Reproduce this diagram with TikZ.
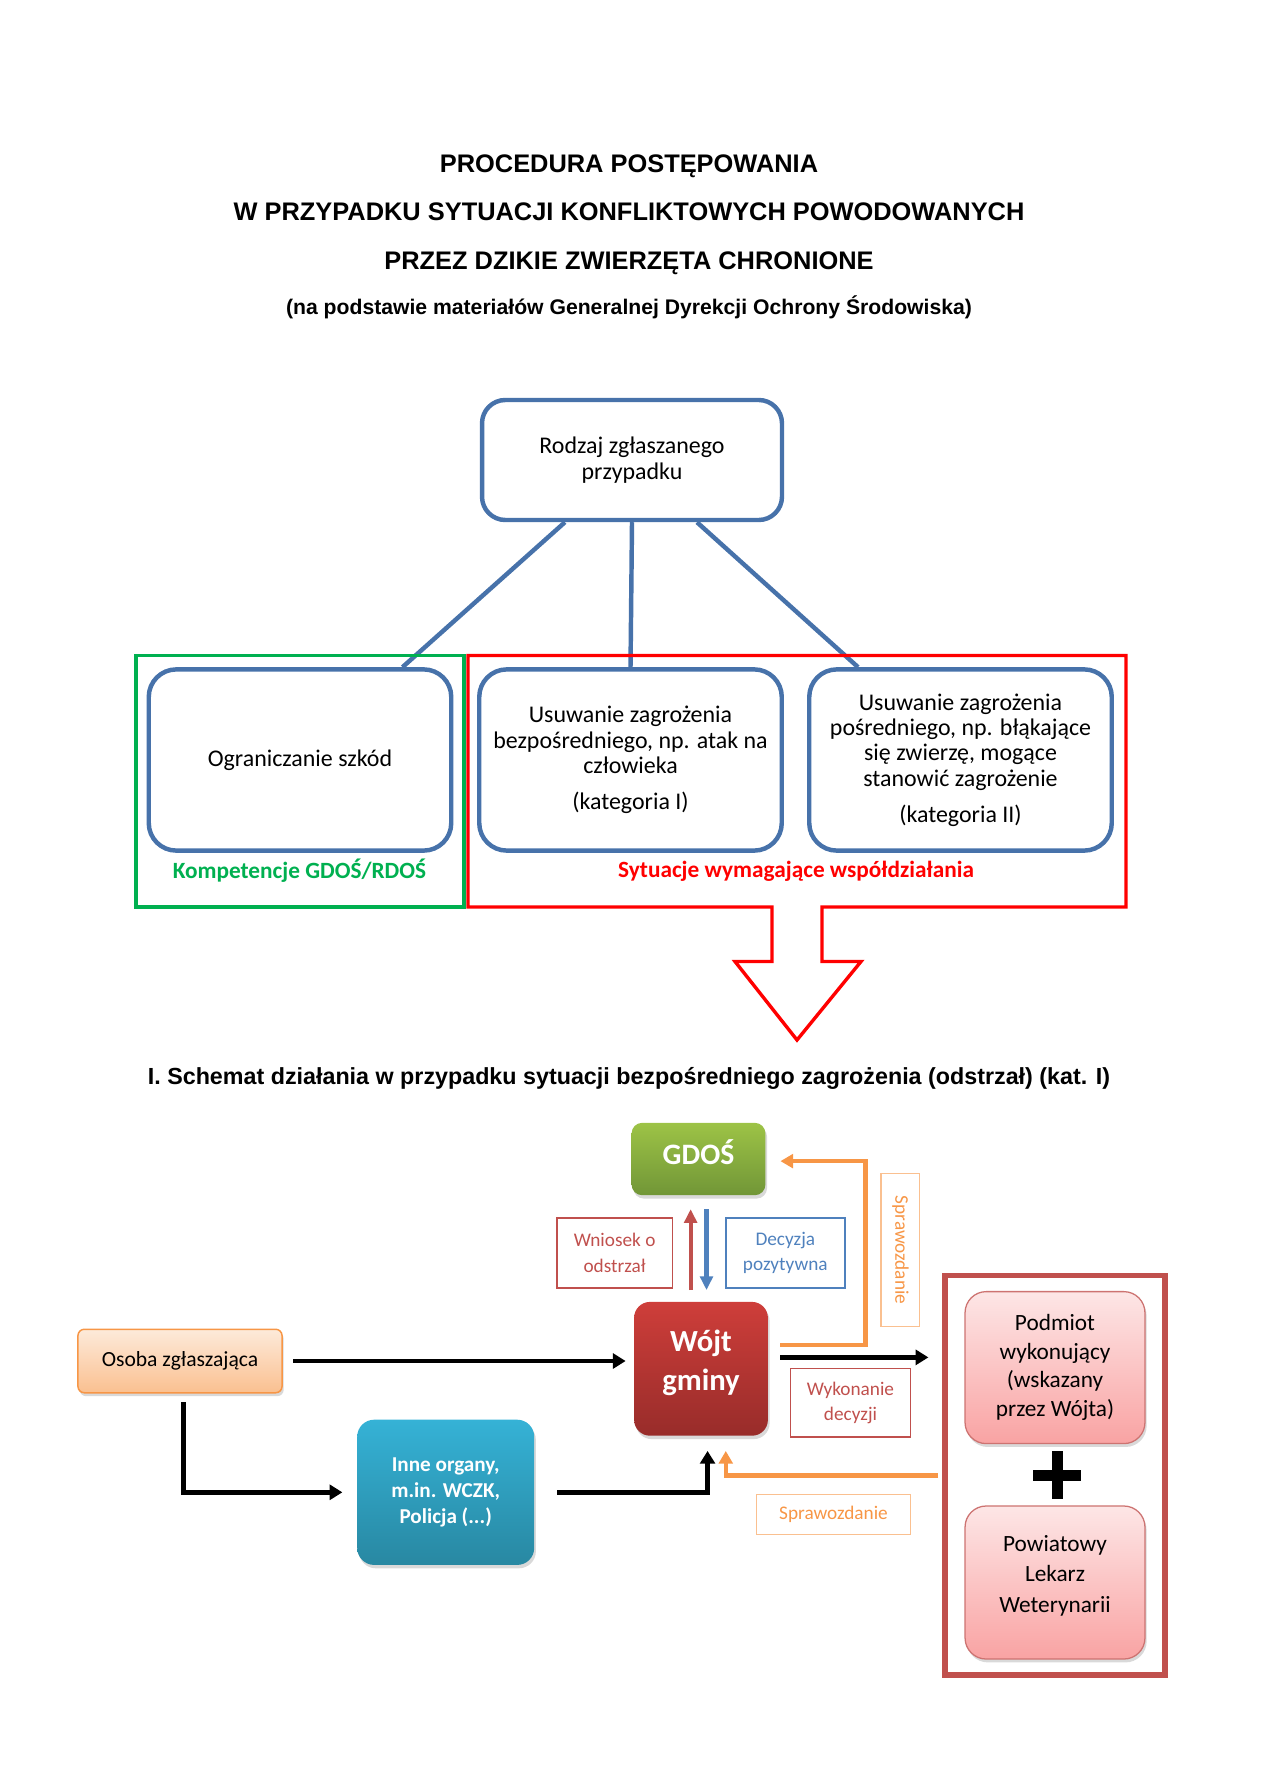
\documentclass[tikz,border=0pt]{standalone}
\usepackage{fontspec}
\setmainfont{Carlito}
\newfontfamily\arialfont{Liberation Sans}
\usetikzlibrary{positioning,arrows.meta,shadows,fit}

\definecolor{caseblue}{RGB}{71,114,170}
\definecolor{framegreen}{RGB}{0,176,80}
\definecolor{framered}{RGB}{255,0,0}
\definecolor{brick}{RGB}{192,80,77}
\definecolor{steel}{RGB}{79,129,189}
\definecolor{tangerine}{RGB}{247,150,70}
\definecolor{peach}{RGB}{250,192,144}

\begin{document}
\begin{tikzpicture}[x=0.4724pt,y=-0.4724pt,
    title/.style={font=\arialfont\bfseries\fontsize{12}{14}\selectfont},
    case/.style={draw=caseblue, line width=2.1pt, rounded corners=13pt, align=center,
        minimum width=142.9pt, minimum height=85.6pt, font=\fontsize{11.3}{12}\selectfont},
    shadowed/.style={drop shadow={shadow xshift=0.8pt, shadow yshift=-1.6pt, opacity=0.3}},
    organ/.style={shadowed, align=center, text=white, font=\bfseries},
    person/.style={shadowed, draw=brick!80, line width=0.6pt, rounded corners=10pt,
        top color={rgb,255:red,253;green,230;blue,230}, bottom color={rgb,255:red,249;green,163;blue,163},
        minimum width=85pt, minimum height=71.8pt, align=center, font=\fontsize{11}{13.5}\selectfont},
    tag/.style={draw, line width=0.7pt, align=center, inner sep=1pt, font=\fontsize{9.1}{12}\selectfont},
    flow/.style={line width=2.1pt, -{Triangle[length=6pt,width=7pt]}},
    report/.style={draw=tangerine, line width=2.1pt, -{Triangle[length=6pt,width=6.5pt]}}
]
    \useasboundingbox (0,0) rectangle (1260,1779);

    \node[title] (title 1) at (629,166) {PROCEDURA POSTĘPOWANIA};
    \node[title] (title 2) at (629,212) {W PRZYPADKU SYTUACJI KONFLIKTOWYCH POWODOWANYCH};
    \node[title] (title 3) at (629,263) {PRZEZ DZIKIE ZWIERZĘTA CHRONIONE};
    \node[font=\arialfont\bfseries\fontsize{10}{12}\selectfont] (source) at (629,307)
        {(na podstawie materiałów Generalnej Dyrekcji Ochrony Środowiska)};

    \node[case, rounded corners=11pt, minimum width=141.7pt, minimum height=56.7pt] (case type) at (632,460)
        {Rodzaj zgłaszanego\\przypadku};

    \node[case] (damage) at (300,760) {Ograniczanie szkód};
    \node[case] (direct) at (630.5,760)
        {Usuwanie zagrożenia\\bezpośredniego, np. atak na\\człowieka\\[5pt](kategoria I)};
    \node[case] (indirect) at (960.5,760)
        {Usuwanie zagrożenia\\pośredniego, np. błąkające\\się zwierzę, mogące\\stanowić zagrożenie\\[5pt](kategoria II)};

    \foreach \from/\to/\dst in {-31.7pt/48.4pt/damage, 0pt/0pt/direct, 30.7pt/-48.4pt/indirect}{
        \draw[caseblue, line width=2.1pt] ([xshift=\from]case type.south) -- ([xshift=\to]\dst.north);
    }

    \draw[framegreen, line width=1.6pt] (136,655.5) rectangle (464,907);
    \draw[framered, line width=1.6pt, line join=miter]
        (772,907) -- (468,907) -- (468,655.5) -- (1126,655.5) -- (1126,907) -- (822,907)
        -- (822,961.5) -- (861,961.5) -- (797,1040) -- (735,961.5) -- (772,961.5) -- cycle;

    \node[text=framegreen, font=\bfseries\fontsize{11}{13}\selectfont] (gdos label) at (299.5,871)
        {Kompetencje GDOŚ/RDOŚ};
    \node[text=framered, font=\bfseries\fontsize{11}{13}\selectfont] (joint label) at (796,871)
        {Sytuacje wymagające współdziałania};

    \node[font=\arialfont\bfseries\fontsize{11}{13}\selectfont] (scheme) at (629,1078.5)
        {I. Schemat działania w przypadku sytuacji bezpośredniego zagrożenia (odstrzał) (kat. I)};

    \node[organ, rounded corners=5pt, minimum width=63.2pt, minimum height=34.2pt,
        top color={rgb,255:red,157;green,195;blue,70}, bottom color={rgb,255:red,113;green,150;blue,55},
        font=\bfseries\fontsize{14}{16}\selectfont] (gdos) at (698.5,1159) {GDOŚ\\[-9pt]};
    \node[organ, rounded corners=7.5pt, minimum width=63.2pt, minimum height=63.2pt,
        top color={rgb,255:red,206;green,62;blue,58}, bottom color={rgb,255:red,152;green,44;blue,42},
        font=\bfseries\fontsize{14.5}{18.4}\selectfont] (wojt) at (701,1368.8) {Wójt\\gminy\\[-10pt]};
    \node[shadowed, draw=tangerine, line width=0.7pt, rounded corners=3pt,
        minimum width=96.4pt, minimum height=30pt,
        top color={rgb,255:red,253;green,234;blue,218}, bottom color=peach,
        font=\fontsize{10.2}{12}\selectfont] (reporter) at (180,1361) {Osoba zgłaszająca};
    \node[organ, rounded corners=8pt, minimum width=83.6pt, minimum height=68.6pt,
        top color={rgb,255:red,53;green,178;blue,214}, bottom color={rgb,255:red,40;green,136;blue,162},
        font=\bfseries\fontsize{10}{12.3}\selectfont] (other bodies) at (445.7,1492.3)
        {Inne organy,\\m.in. WCZK,\\Policja (...)};

    \node[person] (executor) at (1055,1367.6) {Podmiot\\wykonujący\\(wskazany\\przez Wójta)};
    \node[person, minimum height=72.3pt, font=\fontsize{11}{14.4}\selectfont] (vet) at (1055,1582.5)
        {Powiatowy\\Lekarz\\Weterynarii\\[-6pt]};
    \node[draw=brick, line width=2.8pt, inner xsep=9pt, inner ysep=7.3pt,
        fit=(executor)(vet)] (executors) {};
    \coordinate (plus) at (1057,1475);
    \fill ([xshift=-11.2pt,yshift=2.6pt]plus) rectangle ([xshift=11.2pt,yshift=-2.6pt]plus);
    \fill ([xshift=-2.6pt,yshift=11.2pt]plus) rectangle ([xshift=2.6pt,yshift=-11.2pt]plus);

    \node[tag, draw=brick, text=brick, minimum width=54.6pt, minimum height=33.1pt] (request) at (614.6,1253)
        {Wniosek o\\odstrzał};
    \node[tag, draw=steel, text=steel, minimum width=56.2pt, minimum height=33.1pt] (decision) at (785.3,1253)
        {Decyzja\\pozytywna};
    \node[tag, draw=peach, text=tangerine, rotate=-90, minimum width=72.3pt, minimum height=18.2pt] (report up) at (900.4,1250)
        {Sprawozdanie};
    \node[tag, draw=brick, text=brick, minimum width=56.8pt, minimum height=32.2pt] (execution) at (850.5,1402.8)
        {Wykonanie\\decyzji};
    \node[tag, draw=peach, text=tangerine, minimum width=72.8pt, minimum height=18.8pt] (report down) at (833.5,1514.5)
        {Sprawozdanie};

    \draw[flow] ([xshift=5pt]reporter.east) -- ([xshift=-3.8pt]reporter.east -| wojt.west);
    \draw[flow] ([xshift=1.7pt,yshift=-4.2pt]reporter.south) |- ([xshift=-6.8pt]other bodies.west);
    \draw[flow] ([xshift=10.8pt]other bodies.east) -| ([xshift=3.1pt,yshift=-7pt]wojt.south);
    \draw[flow] ([xshift=5.7pt,yshift=5.4pt]wojt.east) coordinate (wojt out) -- ([xshift=-6.6pt]wojt out -| executors.west);

    \draw[report] ([xshift=5.7pt,yshift=11.2pt]wojt.east) -- ++(40.2pt,0) |- ([xshift=6.9pt,yshift=-1pt]gdos.east);
    \draw[report] ([xshift=-2pt]executors.west) -| ([xshift=11.7pt,yshift=-7pt]wojt.south);

    \draw[brick, line width=2pt, -{Triangle[length=6.5pt,width=6pt]}, shorten <=5.4pt, shorten >=6.4pt]
        ([xshift=-4.9pt]wojt.north) -- ([xshift=-4.9pt]wojt.north |- gdos.south);
    \draw[steel, line width=2pt, -{Triangle[length=6.5pt,width=6pt]}, shorten <=6.4pt, shorten >=5.4pt]
        ([xshift=2.6pt]wojt.north |- gdos.south) -- ([xshift=2.6pt]wojt.north);
\end{tikzpicture}
\end{document}
